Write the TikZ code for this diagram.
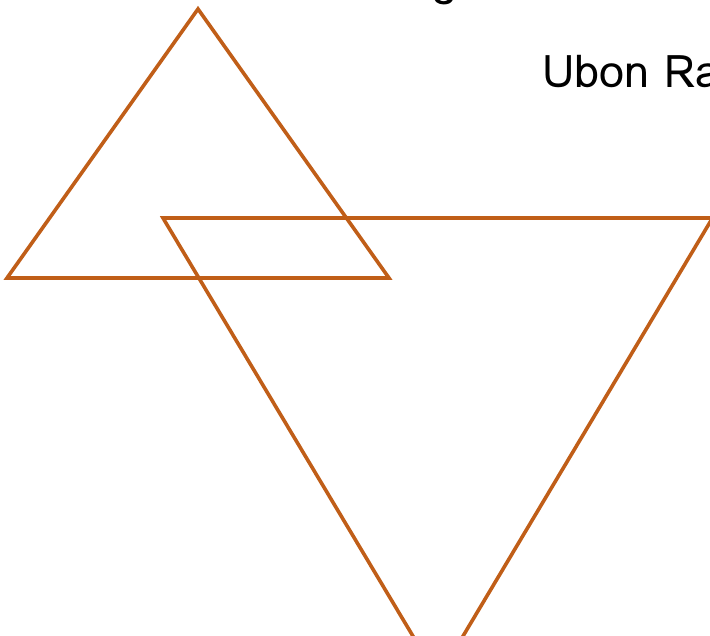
\documentclass[tikz,border=0pt]{standalone}
\usepackage{fontspec}
\newfontfamily\thaifont[Script=Thai]{Loma}
\definecolor{tri}{RGB}{192,94,24}
\begin{document}
\begin{tikzpicture}[x=1pt,y=-1pt,
  triline/.style={draw=tri,line width=3.6pt,line join=miter},
  lbl/.style={font=\thaifont\fontsize{45}{50}\selectfont,inner sep=0pt,anchor=base west}]
\useasboundingbox (0,0) rectangle (710,636);
\clip (0,0) rectangle (710,636);
\coordinate (a1) at (198,9);
\coordinate (a2) at (7,278);
\coordinate (a3) at (389,278);
\coordinate (b1) at (163,218);
\coordinate (b2) at (712.5,218);
\coordinate (b3) at (438,678);
\draw[triline] (a1) -- (a2) -- (a3) -- cycle;
\draw[triline] (b1) -- (b2) -- (b3) -- cycle;
\node[lbl] (ubon) at (542,88) {Ubon Ratchathani};
\node[lbl] (top) at (432,-4) {g};
\end{tikzpicture}
\end{document}
